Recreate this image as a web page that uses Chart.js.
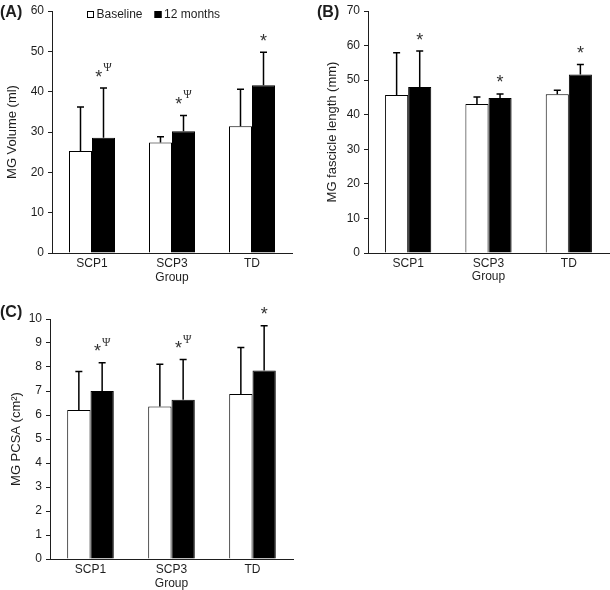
<!DOCTYPE html>
<html>
<head>
<meta charset="utf-8">
<script src="https://cdn.jsdelivr.net/npm/chart.js@4.4.1/dist/chart.umd.min.js"></script>
<style>
  body { margin: 0; background: #fff; }
  #wrap { position: relative; width: 610px; height: 590px; background: #fff; overflow: hidden; }
  canvas { position: absolute; }
</style>
</head>
<body>
<div id="wrap">
  <canvas id="chartA" width="300" height="290" style="left:0;top:0"></canvas>
  <canvas id="chartB" width="310" height="290" style="left:300px;top:0"></canvas>
  <canvas id="chartC" width="300" height="300" style="left:0;top:290px"></canvas>
</div>
<script>
// groups on the x axis
var groups = ['SCP1', 'SCP3', 'TD'];
var seriesNames = ['Baseline', '12 months'];

// (A) MG volume, ml
var volBase = [25.3, 27.4, 31.4];
var volBaseSD = [10.9, 1.4, 9.2];
var vol12 = [28.6, 30.2, 41.6];
var vol12SD = [12.3, 3.9, 8.2];
var volMarks = ['*Ψ', '*Ψ', '*'];

// (B) MG fascicle length, mm
var fasBase = [45.7, 43.1, 45.9];
var fasBaseSD = [12.2, 2.0, 1.2];
var fas12 = [48.0, 44.8, 51.6];
var fas12SD = [10.4, 1.2, 2.9];
var fasMarks = ['*', '*', '*'];

// (C) MG PCSA, cm2
var pcsaBase = [6.21, 6.35, 6.87];
var pcsaBaseSD = [1.60, 1.76, 1.94];
var pcsa12 = [7.00, 6.64, 7.85];
var pcsa12SD = [1.18, 1.67, 1.87];
var pcsaMarks = ['*Ψ', '*Ψ', '*'];

var ink = '#1e1e1e';
Chart.defaults.font.family = "'Liberation Sans', Arial, sans-serif";
Chart.defaults.font.size = 11.5;
Chart.defaults.color = ink;

// draws the upward error bars and the significance marks
var errorBarPlugin = {
  id: 'errorBars',
  afterDatasetsDraw: function(chart) {
    var ctx = chart.ctx;
    var yS = chart.scales.y;
    var opts = chart.options.plugins.errorBars;
    chart.data.datasets.forEach(function(ds, i) {
      var meta = chart.getDatasetMeta(i);
      meta.data.forEach(function(bar, j) {
        var top = yS.getPixelForValue(ds.data[j] + ds.sd[j]);
        ctx.save();
        ctx.strokeStyle = '#000';
        ctx.lineWidth = 1.5;
        ctx.beginPath();
        ctx.moveTo(bar.x, bar.y);
        ctx.lineTo(bar.x, top);
        ctx.moveTo(bar.x - 3.5, top);
        ctx.lineTo(bar.x + 3.5, top);
        ctx.stroke();
        ctx.restore();
        if (i === 1 && opts.marks) {
          drawMark(ctx, opts.marks[j], bar.x, top);
        }
      });
    });
  }
};

function drawMark(ctx, txt, cx, top) {
  ctx.save();
  ctx.fillStyle = '#333';
  ctx.textBaseline = 'alphabetic';
  ctx.font = "18px 'Liberation Sans'";
  var wStar = ctx.measureText('*').width;
  var wPsi = 0;
  if (txt.length > 1) {
    ctx.font = "11.5px 'Liberation Serif'";
    wPsi = ctx.measureText('Ψ').width + 1;
  }
  var x = cx - (wStar + wPsi) / 2;
  ctx.font = "18px 'Liberation Sans'";
  ctx.fillText('*', x, top - 5.5);
  if (wPsi) {
    ctx.font = "11.5px 'Liberation Serif'";
    ctx.fillText('Ψ', x + wStar + 1, top - 17);
  }
  ctx.restore();
}

// panel letter and, for panel A, the legend
var panelPlugin = {
  id: 'panel',
  afterDraw: function(chart) {
    var ctx = chart.ctx;
    var p = chart.options.plugins.panel;
    ctx.save();
    ctx.fillStyle = ink;
    ctx.textBaseline = 'middle';
    ctx.font = "bold 16px 'Liberation Sans'";
    ctx.fillText(p.text, p.x, p.y);
    if (p.legend) {
      ctx.font = "12px 'Liberation Sans'";
      var x = p.legend.x;
      var y = p.legend.y;
      chart.data.datasets.forEach(function(ds) {
        ctx.fillStyle = ds.backgroundColor;
        ctx.fillRect(x, y - 3.5, 7, 7);
        ctx.strokeStyle = '#000';
        ctx.lineWidth = 1;
        ctx.strokeRect(x + 0.5, y - 3, 6, 6);
        x += 9.5;
        ctx.fillStyle = ink;
        ctx.fillText(ds.label, x, y);
        x += ctx.measureText(ds.label).width + 12;
      });
    }
    ctx.restore();
  }
};

function makeChart(id, base, baseSD, later, laterSD, marks, yMax, yStep, yTitle, box) {
  return new Chart(document.getElementById(id), {
    type: 'bar',
    data: {
      labels: groups,
      datasets: [
        {
          label: seriesNames[0],
          data: base,
          sd: baseSD,
          backgroundColor: '#fff',
          borderColor: '#000',
          borderWidth: 1,
          barPercentage: 1,
          categoryPercentage: 0.575
        },
        {
          label: seriesNames[1],
          data: later,
          sd: laterSD,
          backgroundColor: '#000',
          borderColor: '#000',
          borderWidth: 1,
          barPercentage: 1,
          categoryPercentage: 0.575
        }
      ]
    },
    options: {
      responsive: false,
      animation: false,
      layout: { padding: box.padding },
      plugins: {
        legend: { display: false },
        tooltip: { enabled: false },
        errorBars: { marks: marks },
        panel: box.panel
      },
      scales: {
        x: {
          grid: { display: true, drawOnChartArea: false, drawTicks: false },
          border: { display: true, color: ink, width: 1 },
          ticks: { padding: 3, color: ink, font: { size: 12 } },
          title: {
            display: true, text: 'Group', color: ink,
            font: { size: 12, lineHeight: 1 },
            padding: { top: 0, bottom: box.groupPad }
          },
          afterFit: function(s) { s.height = box.xHeight; s.paddingLeft = 0; s.paddingRight = 0; }
        },
        y: {
          min: 0,
          max: yMax,
          ticks: { stepSize: yStep, padding: 4, color: ink, font: { size: 12 } },
          grid: { display: true, drawOnChartArea: false, drawTicks: true, tickLength: 4, color: ink },
          border: { display: true, color: ink, width: 1 },
          title: {
            display: true, text: yTitle, color: ink,
            font: { size: 13 },
            padding: { top: box.titlePad, bottom: 0 }
          },
          afterFit: function(s) { s.width = box.yWidth; s.paddingTop = 0; s.paddingBottom = 0; }
        }
      }
    },
    plugins: [errorBarPlugin, panelPlugin]
  });
}

makeChart('chartA', volBase, volBaseSD, vol12, vol12SD, volMarks, 60, 10, 'MG Volume (ml)', {
  padding: { left: 0, top: 11, right: 8, bottom: 0 },
  yWidth: 52, xHeight: 37, titlePad: 5, groupPad: 6,
  panel: { text: '(A)', x: 0, y: 13, legend: { x: 87, y: 14.5 } }
});

makeChart('chartB', fasBase, fasBaseSD, fas12, fas12SD, fasMarks, 70, 10, 'MG fascicle length (mm)', {
  padding: { left: 20, top: 11, right: 1, bottom: 0 },
  yWidth: 48, xHeight: 37, titlePad: 5, groupPad: 7,
  panel: { text: '(B)', x: 17, y: 13 }
});

makeChart('chartC', pcsaBase, pcsaBaseSD, pcsa12, pcsa12SD, pcsaMarks, 10, 1, 'MG PCSA (cm²)', {
  padding: { left: 0, top: 29, right: 7, bottom: 0 },
  yWidth: 50, xHeight: 31, titlePad: 9, groupPad: 0,
  panel: { text: '(C)', x: 0, y: 22.5 }
});
</script>
</body>
</html>
